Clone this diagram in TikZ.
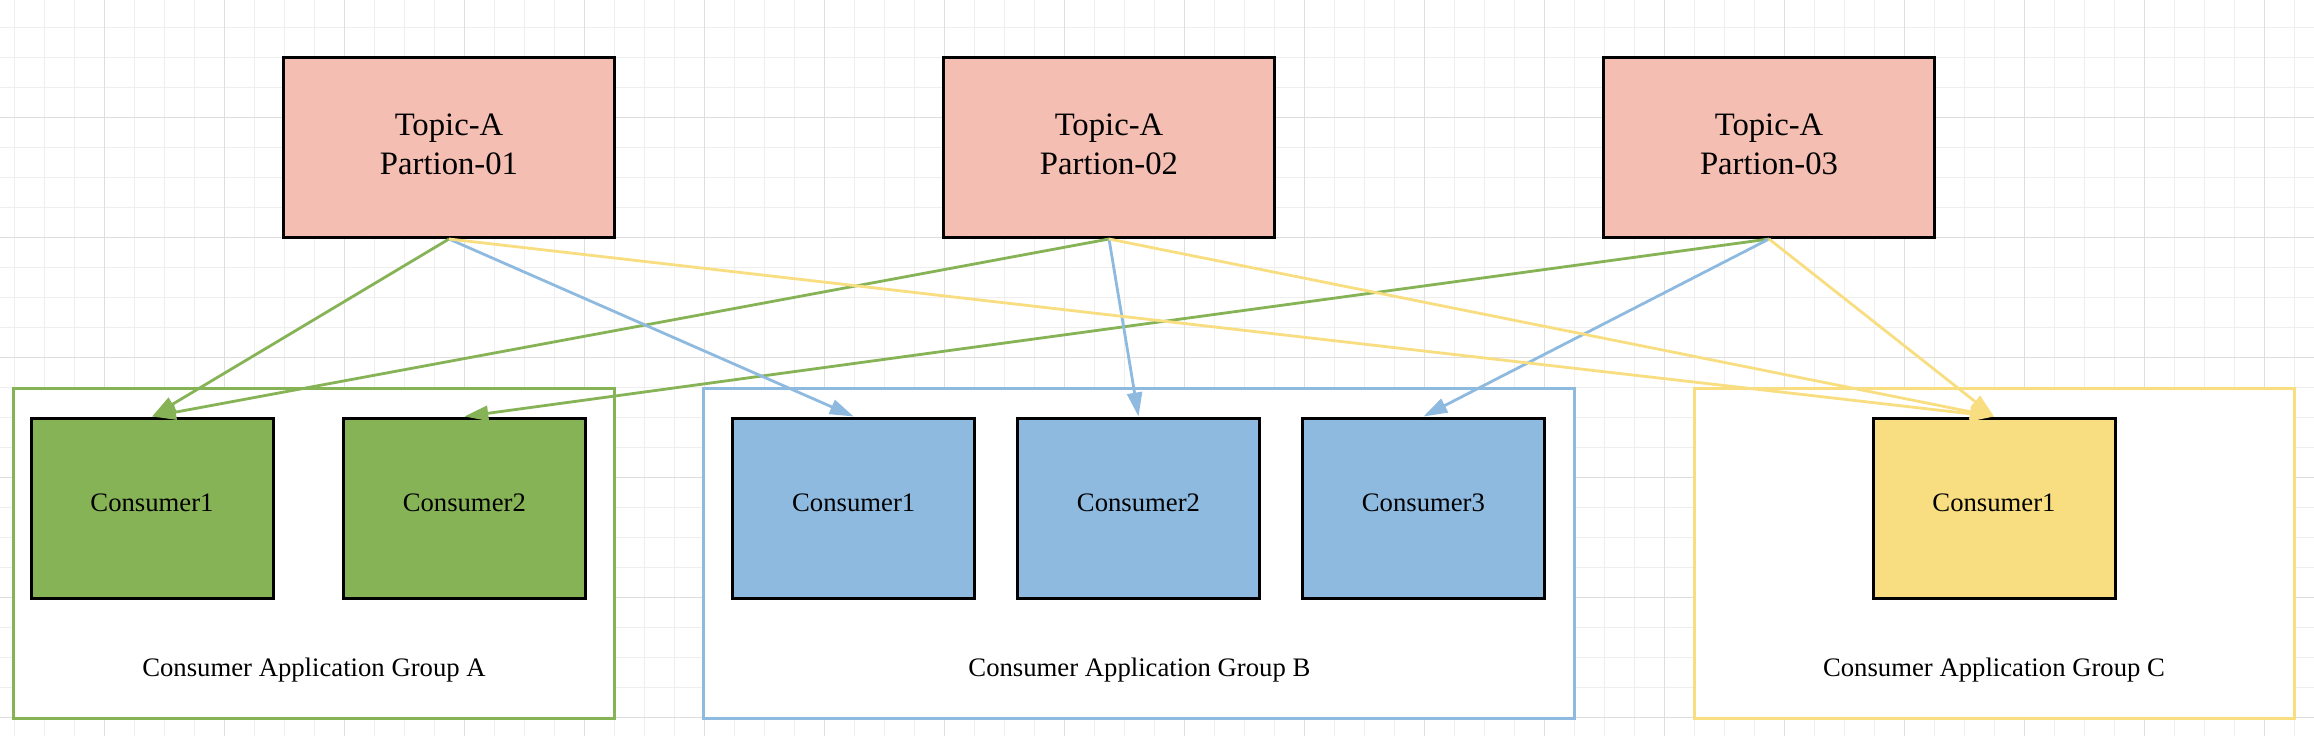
\documentclass[tikz,border=0pt]{standalone}
\usepackage{fontspec}
\setmainfont{Liberation Serif}
\usetikzlibrary{arrows.meta}
\definecolor{topicfill}{HTML}{F4BEB2}
\definecolor{grn}{HTML}{87B357}
\definecolor{blu}{HTML}{8EBAE0}
\definecolor{yel}{HTML}{F8DE80}
\definecolor{gridminor}{HTML}{EEEEEE}
\definecolor{gridmajor}{HTML}{DEDEDE}
\tikzset{
  topicbox/.style={draw=black, line width=3pt, fill=topicfill, minimum width=331pt, minimum height=180pt, inner sep=0pt, align=center, text depth=6pt, font=\fontsize{32.7}{39}\selectfont},
  consbox/.style={draw=black, line width=3pt, minimum width=242pt, minimum height=180pt, inner sep=0pt, text depth=10pt, font=\fontsize{26.7}{32}\selectfont},
  grpbox/.style={line width=3pt, fill=white, minimum height=330pt, inner sep=0pt},
  grplabel/.style={font=\fontsize{26.7}{32}\selectfont, inner sep=0pt},
  conn/.style={line width=2.8pt, -{Triangle[length=24pt,width=15pt]}},
}
\begin{document}
\begin{tikzpicture}[x=1pt,y=-1pt]
\useasboundingbox (0,0) rectangle (2314,736);
\fill[white] (0,0) rectangle (2314,736);
% grid
\foreach \i in {0,...,76} \draw[gridminor, line width=1.2pt] ({14.5+30*\i},0) -- ({14.5+30*\i},736);
\foreach \i in {0,...,23} \draw[gridminor, line width=1.2pt] (0,{27.3+30*\i}) -- (2314,{27.3+30*\i});
\foreach \i in {0,...,18} \draw[gridmajor, line width=1.2pt] ({104.5+120*\i},0) -- ({104.5+120*\i},736);
\foreach \i in {0,...,5} \draw[gridmajor, line width=1.2pt] (0,{117.3+120*\i}) -- (2314,{117.3+120*\i});

% topics
\node[topicbox] (p1) at (449,147.5) {Topic-A\\Partion-01};
\node[topicbox] (p2) at (1109,147.5) {Topic-A\\Partion-02};
\node[topicbox] (p3) at (1769,147.5) {Topic-A\\Partion-03};

% groups
\node[grpbox, draw=grn, minimum width=601pt] (ga) at (314,553) {};
\node[grpbox, draw=blu, minimum width=871pt] (gb) at (1139.4,553) {};
\node[grpbox, draw=yel, minimum width=600pt] (gc) at (1994,553) {};
\node[grplabel] (la) at (314,670) {Consumer Application Group A};
\node[grplabel] (lb) at (1139.4,670) {Consumer Application Group B};
\node[grplabel] (lc) at (1994,670) {Consumer Application Group C};

% consumers
\node[consbox, fill=grn] (a1) at (152,508) {Consumer1};
\node[consbox, fill=grn] (a2) at (464.3,508) {Consumer2};
\node[consbox, fill=blu] (b1) at (853.7,508) {Consumer1};
\node[consbox, fill=blu] (b2) at (1138.5,508) {Consumer2};
\node[consbox, fill=blu] (b3) at (1423.4,508) {Consumer3};
\node[consbox, fill=yel] (c1) at (1994,508) {Consumer1};

% connectors
\draw[conn, grn] (p1.south) -- (a1.north);
\draw[conn, grn] (p2.south) -- (a1.north);
\draw[conn, grn] (p3.south) -- (a2.north);
\draw[conn, blu] (p1.south) -- (b1.north);
\draw[conn, blu] (p2.south) -- (b2.north);
\draw[conn, blu] (p3.south) -- (b3.north);
\draw[conn, yel] (p1.south) -- (c1.north);
\draw[conn, yel] (p2.south) -- (c1.north);
\draw[conn, yel] (p3.south) -- (c1.north);
\end{tikzpicture}
\end{document}
